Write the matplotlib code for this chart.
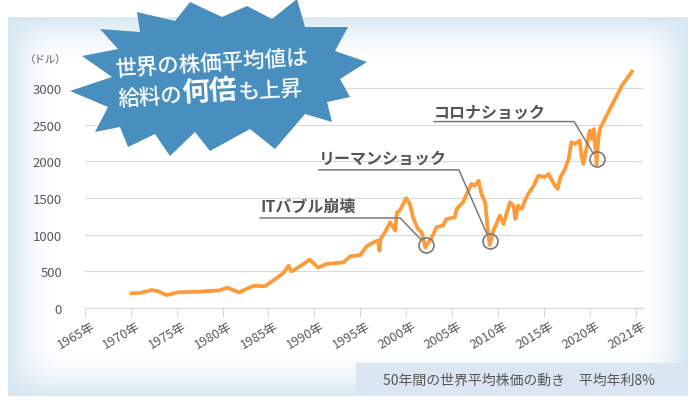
import numpy as np
import matplotlib
matplotlib.use("Agg")
import matplotlib.pyplot as plt
import matplotlib.transforms as mtransforms
from matplotlib.patches import Polygon, Rectangle

plt.rcParams['font.family'] = ['Noto Sans CJK JP', 'DejaVu Sans']

# x axis categories (the last step is only one year)
tick_years = [1965, 1970, 1975, 1980, 1985, 1990, 1995, 2000, 2005, 2010, 2015, 2020, 2021]
tick_labels = [f"{y}年" for y in tick_years]
y_ticks = [0, 500, 1000, 1500, 2000, 2500, 3000]

# world average stock price (dollars)
years = [1970.1, 1971.0, 1972.3, 1973.0, 1973.9, 1975.2, 1977.5, 1979.7, 1980.5, 1981.8,
         1983.4, 1984.6, 1985.5, 1986.6, 1987.2, 1987.5, 1988.1, 1989.5, 1990.4, 1991.3,
         1993.2, 1993.9, 1995.0, 1995.7, 1996.6, 1996.95, 1997.08, 1997.2, 1997.7, 1998.25,
         1998.8, 1999.0, 1999.3, 2000.0, 2000.4, 2000.8, 2001.3, 2001.7, 2002.1, 2002.8,
         2003.3, 2004.0, 2004.4, 2005.3, 2005.5, 2006.2, 2006.6, 2007.1, 2007.5, 2007.9,
         2008.2, 2008.6, 2008.85, 2009.1, 2009.5, 2009.9, 2010.2, 2010.6, 2011.3, 2011.7,
         2011.9, 2012.2, 2012.6, 2013.0, 2013.4, 2013.9, 2014.4, 2015.1, 2015.5, 2016.0,
         2016.5, 2016.8, 2017.3, 2017.7, 2018.0, 2018.4, 2018.9, 2019.1, 2019.3, 2019.7,
         2019.85, 2020.0, 2020.05, 2020.09, 2020.15, 2020.19, 2020.22, 2020.33, 2020.44, 2020.59,
         2020.70, 2020.92]
prices = [200, 205, 245, 228, 177, 214, 223, 241, 277, 214,
          304, 296, 373, 473, 577, 500, 541, 659, 550, 600,
          623, 705, 723, 842, 905, 918, 782, 940, 1033, 1169,
          1055, 1306, 1327, 1497, 1419, 1214, 1078, 1033, 828, 964,
          1101, 1123, 1214, 1237, 1351, 1442, 1555, 1692, 1669, 1737,
          1555, 1442, 1123, 859, 1055, 1169, 1260, 1146, 1442, 1396,
          1214, 1396, 1351, 1487, 1578, 1669, 1805, 1783, 1828, 1715,
          1624, 1783, 1896, 2033, 2260, 2237, 2283, 2078, 1964, 2214,
          2330, 2420, 2300, 2440, 1960, 2330, 2440, 2580, 2715, 2896,
          3033, 3224]

# the three crashes marked with circles
crash_names = ["ITバブル崩壊", "リーマンショック", "コロナショック"]
crash_years = [2002.15, 2009.15, 2020.15]
crash_prices = [864, 910, 2029]

W, H = 696, 410
fig = plt.figure(figsize=(W / 100, H / 100), dpi=100)

# background panel: pale blue edges fading into white
bg = fig.add_axes([0, 0, 1, 1], zorder=0)
xx, yy = np.meshgrid(np.arange(W) + 0.5, np.arange(H) + 0.5)
px0, px1, py0, py1 = 8, 688, 18, 397
dx = np.minimum(xx - px0, px1 - xx)
dy = np.minimum(yy - py0, py1 - yy)
tx = np.clip(dx / 55, 0, 1)
ty = np.clip(dy / 50, 0, 1)
t = (tx * (2 - tx)) * (ty * (2 - ty))
edge = np.array([214, 231, 242]) / 255
img = edge[None, None, :] * (1 - t[..., None]) + t[..., None]
inside = (dx >= 0) & (dy >= 0)
img[~inside] = 1.0
bg.imshow(img, extent=(0, W, H, 0), aspect="auto", interpolation="bilinear")
bg.set_xlim(0, W)
bg.set_ylim(H, 0)
bg.axis("off")

# main chart, placed in pixel units
left, right, bottom, top = 84.8, 643, 309, 67
ax = fig.add_axes([left / W, (H - bottom) / H, (right - left) / W, (bottom - top) / H], zorder=1)
ax.patch.set_alpha(0)

pos = np.interp(years, tick_years, np.arange(len(tick_years)))
ax.plot(pos, prices, color="#fe9a38", lw=2.7, solid_joinstyle="round", zorder=3)

ax.set_xlim(0, 12.16)
ax.set_ylim(0, 3300)
ax.set_yticks(y_ticks)
ax.set_yticklabels([str(v) for v in y_ticks])
ax.set_xticks(np.arange(len(tick_years)))
ax.set_xticklabels(tick_labels, rotation=30, ha="right", va="center", rotation_mode="anchor")
ax.tick_params(axis="x", length=6.5, width=0.8, color="#d9d9d9", pad=5.6,
               labelsize=9.2, labelcolor="#595959")
ax.tick_params(axis="y", length=0, pad=16.4, labelsize=9.5, labelcolor="#595959")
shift = mtransforms.ScaledTranslation(0.09, 0, fig.dpi_scale_trans)
for lab in ax.get_xticklabels():
    lab.set_transform(lab.get_transform() + shift)
for s in ["top", "right", "left"]:
    ax.spines[s].set_visible(False)
ax.spines["bottom"].set_color("#d9d9d9")
ax.grid(axis="y", color="#d9d9d9", lw=0.8)
ax.set_axisbelow(True)

# crash callouts
label_pos = [(3.82, 1396), (5.10, 2046), (7.61, 2678)]
elbows = [(6.87, 1228), (8.15, 1883), (10.66, 2542)]
crash_pos = np.interp(crash_years, tick_years, np.arange(len(tick_years)))
radius = 7.5
for name, (lx, ly), (ex, ey), cx, cy in zip(crash_names, label_pos, elbows, crash_pos, crash_prices):
    ax.plot(cx, cy, "o", ms=2 * radius * 0.72, mfc="none", mec="#7a7a7a", mew=1.2, zorder=5)
    c = ax.transData.transform((cx, cy))
    e = ax.transData.transform((ex, ey))
    u = (e - c) / np.hypot(*(e - c))
    end = ax.transData.inverted().transform(c + u * radius)
    ax.plot([lx, ex, end[0]], [ey, ey, end[1]], color="#7a7a7a", lw=1.1, zorder=4)
    ax.text(lx, ly, name, ha="left", va="center", fontsize=11.5, fontweight="bold",
            color="#555555", zorder=5)

# overlay in pixel coordinates
ov = fig.add_axes([0, 0, 1, 1], zorder=2)
ov.set_xlim(0, W)
ov.set_ylim(H, 0)
ov.axis("off")
ov.patch.set_alpha(0)

ov.text(46, 60, "（ドル）", ha="center", va="center", fontsize=7.5, color="#595959")

star = [(70, 92), (112, 78), (82, 57), (118, 50), (100, 30), (140, 33), (137, 13), (175, 22),
        (190, 3), (222, 18), (247, 7), (272, 20), (297, 0), (305, 28), (348, 28), (335, 52),
        (367, 63), (340, 80), (350, 98), (327, 103), (332, 123), (305, 115), (275, 150),
        (250, 130), (210, 152), (195, 133), (170, 157), (155, 135), (128, 148), (120, 128),
        (95, 133), (108, 108)]
ov.add_patch(Polygon(star, closed=True, facecolor="#488ebf", edgecolor="none"))

ang = 3.5
u = np.array([np.cos(np.radians(ang)), -np.sin(np.radians(ang))])
ov.text(115, 76, "世界の株価平均値は", rotation=ang, rotation_mode="anchor", ha="left",
        va="baseline", fontsize=15.5, color="white", fontweight="medium")
fs1, fs2 = 15.5, 20
p = np.array([118.0, 106.0])
for seg, fs, fw in [("給料の", fs1, "medium"), ("何倍", fs2, "bold"), ("も上昇", fs1, "medium")]:
    ov.text(p[0], p[1], seg, rotation=ang, rotation_mode="anchor", ha="left", va="baseline",
            fontsize=fs, color="white", fontweight=fw)
    p = p + u * len(seg) * fs * 100 / 72

# caption box
ov.add_patch(Rectangle((356, 364), 332, 33, facecolor="#dae6f2", edgecolor="none"))
ov.text(519, 381, "50年間の世界平均株価の動き　平均年利8%", ha="center", va="center",
        fontsize=10, color="#555555")

fig.savefig("out.png", dpi=100)
